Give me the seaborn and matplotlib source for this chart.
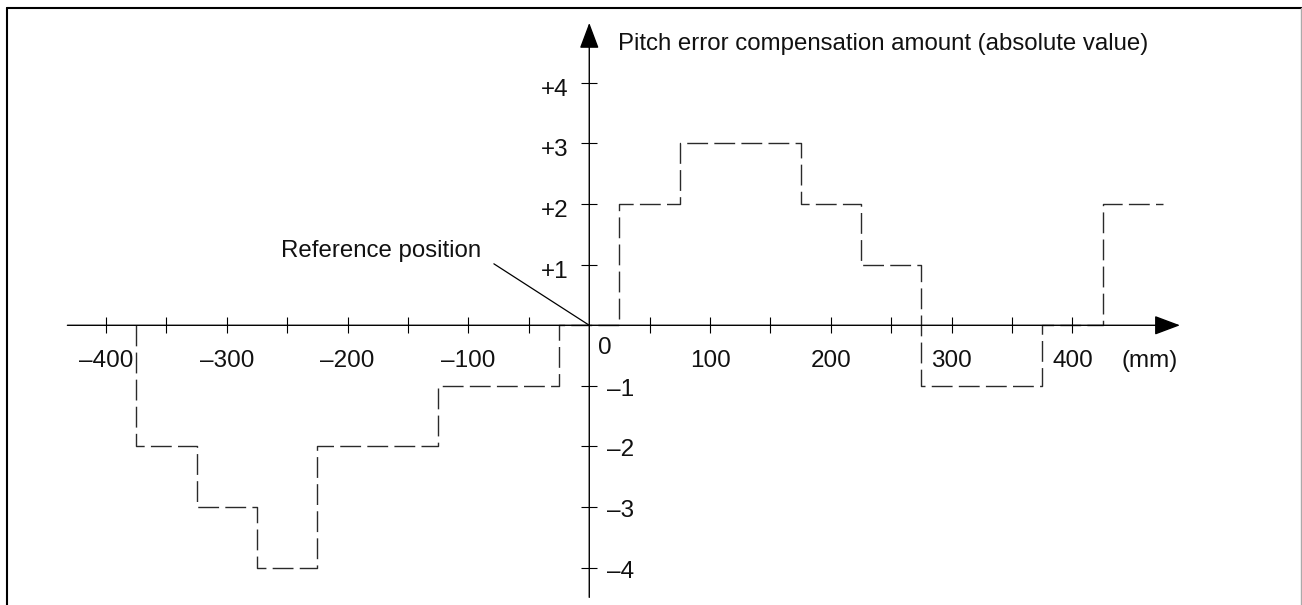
import matplotlib
matplotlib.use("Agg")
import matplotlib.pyplot as plt
import seaborn as sns
import pandas as pd
from matplotlib.lines import Line2D

# pitch error compensation: start of each 50 mm interval (mm) and the amount held on it
positions = [-375, -375, -325, -275, -225, -175, -125, -75, -25, 25, 75, 125, 175,
             225, 275, 325, 375, 425, 475]
amounts = [0, -2, -3, -4, -2, -2, -1, -1, 0, 2, 3, 3, 2, 1, -1, -1, 0, 2, 2]

# axis ticks and labels
x_ticks = [-400, -350, -300, -250, -200, -150, -100, -50, 50, 100, 150, 200, 250, 300, 350, 400]
x_label_ticks = [-400, -300, -200, -100, 100, 200, 300, 400]
x_label_text = ['–400', '–300', '–200', '–100', '100', '200', '300', '400']
y_ticks = [4, 3, 2, 1, -1, -2, -3, -4]
y_label_text = ['+4', '+3', '+2', '+1', '–1', '–2', '–3', '–4']

sns.set_theme(style='white')
plt.rcParams['font.family'] = ['Liberation Sans', 'DejaVu Sans']
plt.rcParams['lines.scale_dashes'] = False
plt.rcParams['text.color'] = '#111111'

fig = plt.figure(figsize=(13.02, 6.05), dpi=100)
ax = fig.add_axes([0, 0, 1, 1])

df = pd.DataFrame({'position': positions, 'amount': amounts})
sns.lineplot(data=df, x='position', y='amount', sort=False, estimator=None,
             drawstyle='steps-post', color='#2a2a2a', lw=1.0, ax=ax)
ax.lines[0].set_dashes([15, 4.5])

ax.set_xlim(-487.8, 590.0)
ax.set_ylim(-4.616, 5.368)
ax.set_xlabel('')
ax.set_ylabel('')
for s in ax.spines.values():
    s.set_visible(False)
ax.spines['bottom'].set_position(('data', 0))
ax.spines['left'].set_position(('data', 0))
ax.set_xticks(x_ticks)
ax.set_yticks(y_ticks)
ax.tick_params(direction='inout', length=11, width=0.8, color='black',
               labelbottom=False, labelleft=False, bottom=True, left=True)

# axis lines with arrow heads
arrow = dict(arrowstyle='-|>,head_length=0.8,head_width=0.3', color='black', lw=1.0,
             shrinkA=0, shrinkB=0, mutation_scale=20)
x_end, y_end = 489, 4.99
ax.annotate('', xy=(x_end, 0), xytext=(-432, 0), arrowprops=arrow)
ax.annotate('', xy=(0, y_end), xytext=(0, -4.49), arrowprops=arrow)

# tick labels
for t, lab in zip(x_label_ticks, x_label_text):
    ax.annotate(lab, xy=(t, 0), xytext=(0, -42), textcoords='offset pixels',
                ha='center', va='baseline', fontsize=17.5)
ax.annotate('0', xy=(0, 0), xytext=(16, -29), textcoords='offset pixels',
            ha='center', va='baseline', fontsize=17.5)
ax.annotate('(mm)', xy=(x_end, 0), xytext=(-30, -42), textcoords='offset pixels',
            ha='center', va='baseline', fontsize=17.5)
for v, lab in zip(y_ticks, y_label_text):
    if v > 0:
        ax.annotate(lab, xy=(0, v), xytext=(-21, -13), textcoords='offset pixels',
                    ha='right', va='baseline', fontsize=17.5)
    else:
        ax.annotate(lab, xy=(0, v), xytext=(18, -10), textcoords='offset pixels',
                    ha='left', va='baseline', fontsize=17.5)

ax.annotate('Pitch error compensation amount (absolute value)', xy=(0, y_end),
            xytext=(29, -27), textcoords='offset pixels', ha='left', va='baseline',
            fontsize=17.3)

ax.annotate('Reference position', xy=(0, 0), xytext=(-108, 68), textcoords='offset pixels',
            ha='right', va='baseline', fontsize=17.3,
            arrowprops=dict(arrowstyle='-', color='black', lw=0.9, shrinkA=8, shrinkB=0,
                            relpos=(1, 0.3)))

# frame around the figure (open at the bottom)
fx, fy = 7 / 1302, 1 - 8 / 605
fig.add_artist(Line2D([fx, fx], [0, fy], transform=fig.transFigure, color='black', lw=1.5))
fig.add_artist(Line2D([fx, 1], [fy, fy], transform=fig.transFigure, color='black', lw=1.5))
fig.add_artist(Line2D([1 - 1 / 1302, 1 - 1 / 1302], [0, fy], transform=fig.transFigure,
                      color='#aaaaaa', lw=1.0))

fig.savefig('out.png', dpi=100)
